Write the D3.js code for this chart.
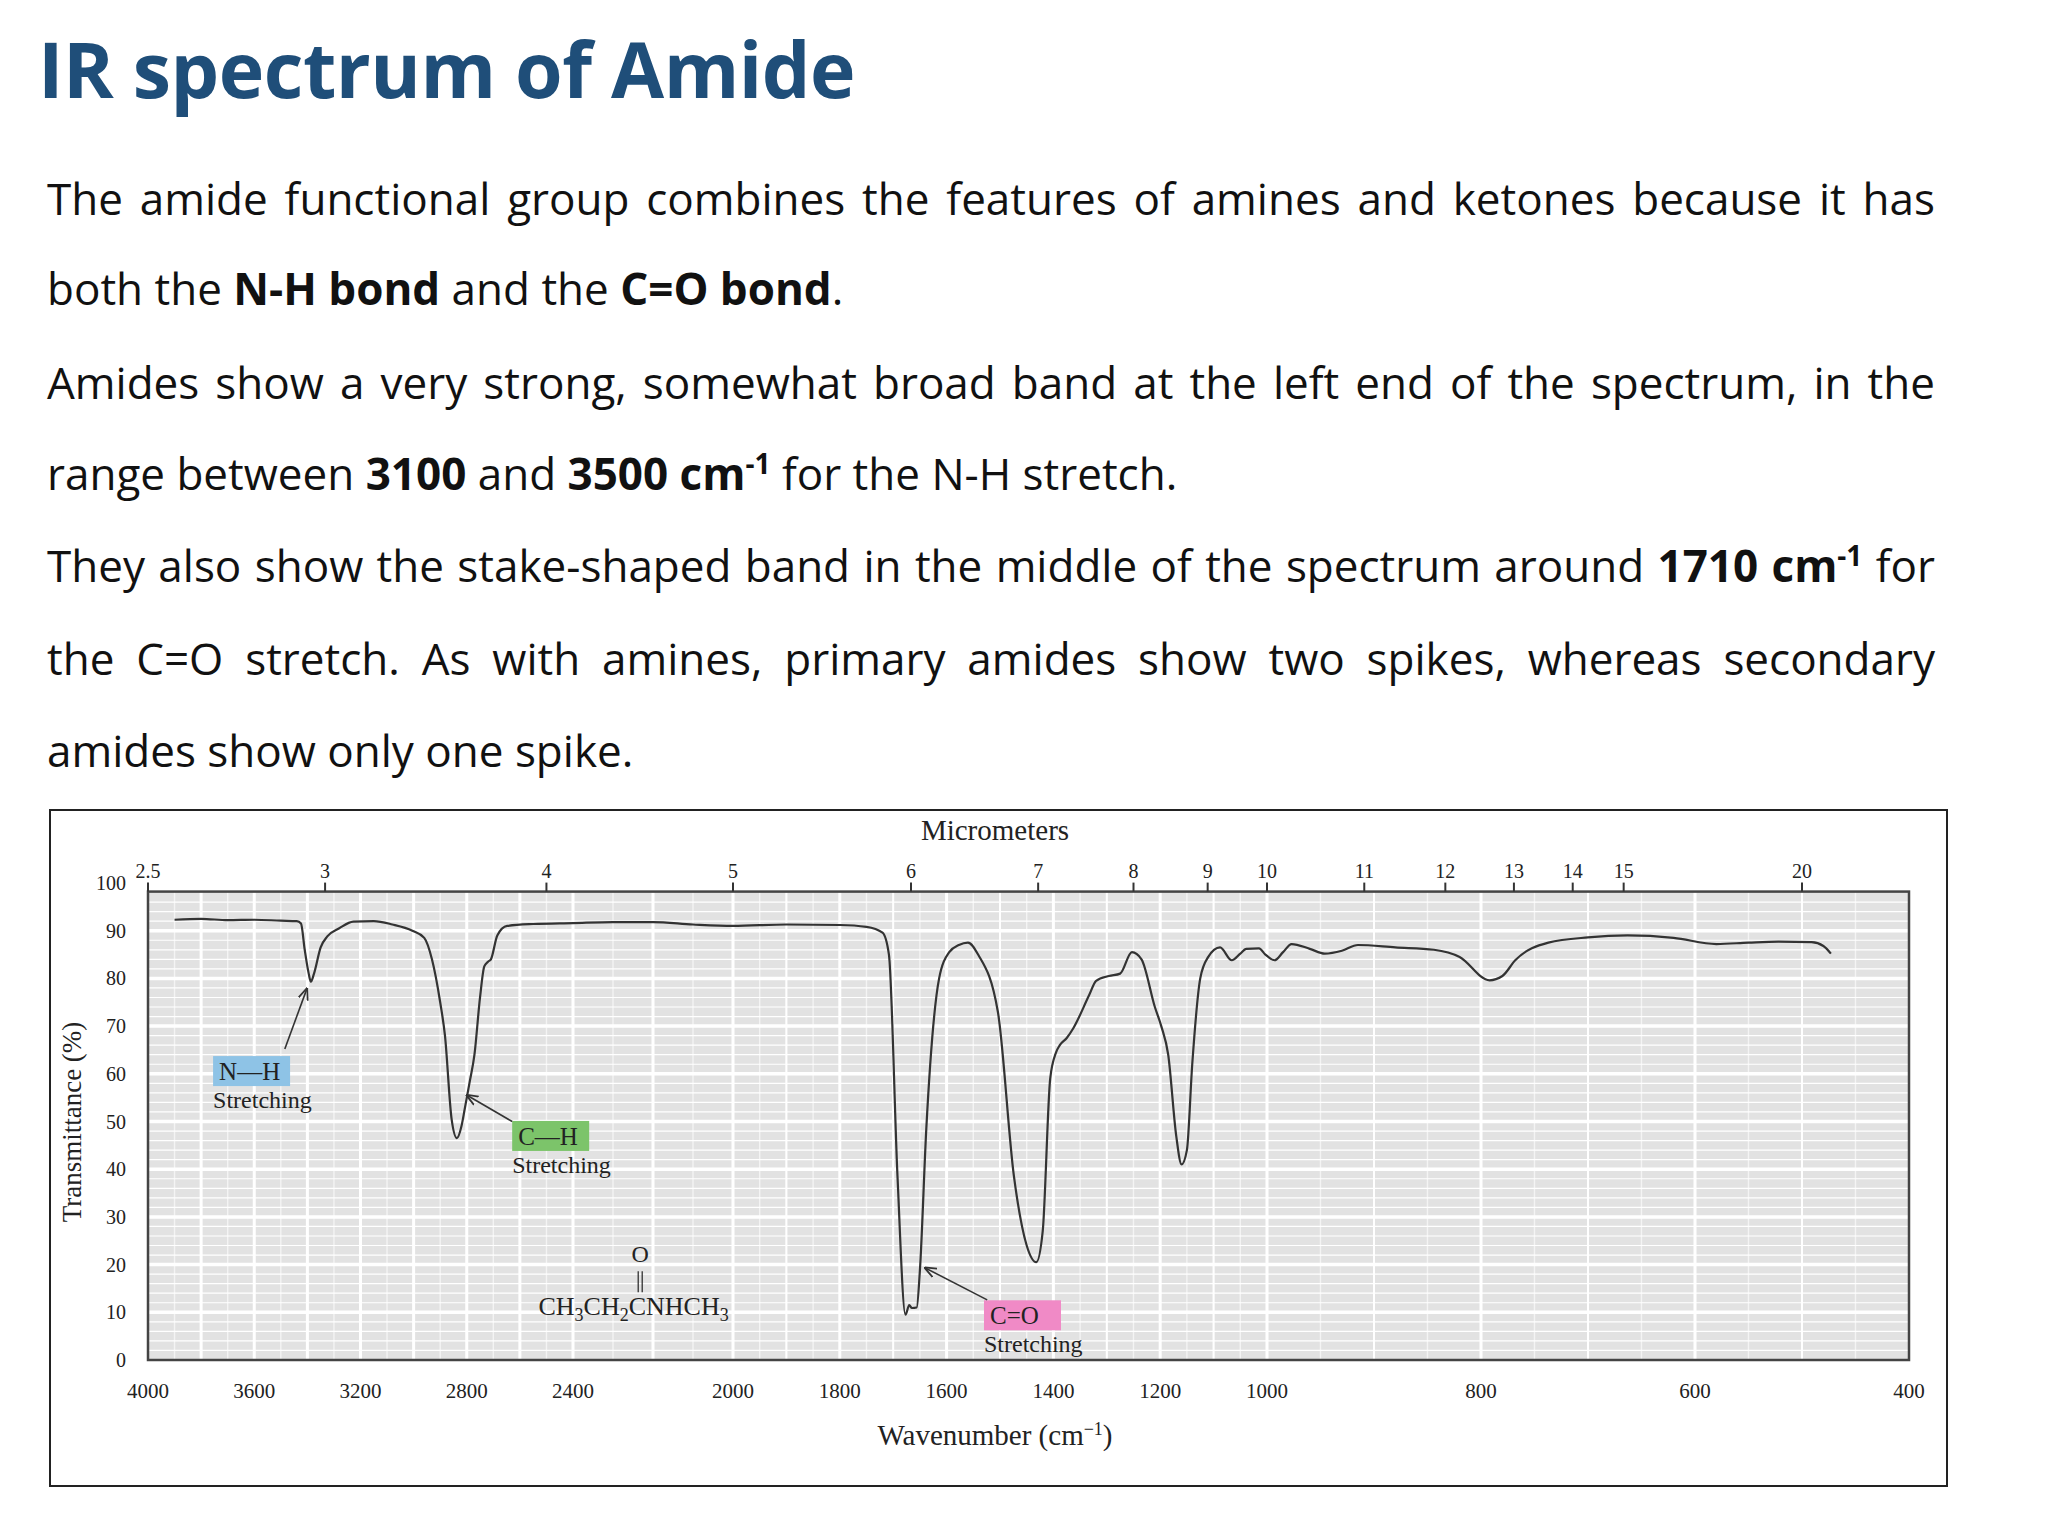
<!DOCTYPE html>
<html>
<head>
<meta charset="utf-8">
<script src="https://cdn.jsdelivr.net/npm/d3@7"></script>
<style>
  body { margin: 0; width: 2048px; height: 1536px; background: #fff; position: relative; overflow: hidden; font-family: "Open Sans", sans-serif; }
  #title { position: absolute; left: 38px; top: 16px; font-size: 77px; font-weight: bold; color: #1f4e79; letter-spacing: -0.5px; }
  .line { position: absolute; left: 47px; width: 1888px; font-size: 44px; color: #111; white-space: nowrap; }
  .full { text-align: justify; text-align-last: justify; white-space: normal; }
  svg { position: absolute; left: 0; top: 0; }
</style>
</head>
<body>
<div id="title">IR spectrum of Amide</div>
<div class="line full" style="top:168px">The amide functional group combines the features of amines and ketones because it has</div>
<div class="line" style="top:258px">both the <b>N-H bond</b> and the <b>C=O bond</b>.</div>
<div class="line full" style="top:352px">Amides show a very strong, somewhat broad band at the left end of the spectrum, in the</div>
<div class="line" style="top:443px">range between <b>3100</b> and <b>3500 cm<sup style="font-size:28px">-1</sup></b> for the N-H stretch.</div>
<div class="line full" style="top:535px">They also show the stake-shaped band in the middle of the spectrum around <b>1710 cm<sup style="font-size:28px">-1</sup></b> for</div>
<div class="line full" style="top:628px">the C=O stretch. As with amines, primary amides show two spikes, whereas secondary</div>
<div class="line" style="top:720px">amides show only one spike.</div>
<svg id="chart" width="2048" height="1536"></svg>
<script>
// wavenumbers (cm-1) and transmittance (%)
const wavenumber = [3900, 3800, 3700, 3600, 3500, 3440, 3424, 3410, 3395, 3387, 3375, 3350, 3325, 3280, 3227, 3150, 3080, 3005,
  2960, 2931, 2900, 2882, 2857, 2837, 2820, 2808, 2790, 2771, 2750, 2734, 2720, 2709, 2685, 2648, 2550, 2400, 2300, 2200, 2100,
  2000, 1900, 1800, 1750, 1720, 1708, 1692, 1677, 1670, 1665, 1656, 1650, 1638, 1614, 1595, 1577, 1560, 1541, 1504, 1474,
  1450, 1432, 1420, 1406, 1395, 1388, 1375, 1363, 1333, 1320, 1296, 1275, 1253, 1235, 1210, 1198, 1185, 1170, 1160, 1150,
  1140, 1125, 1110, 1088, 1066, 1050, 1039, 1015, 1003, 993, 985, 977, 960, 946, 930, 915, 880, 844, 820, 792, 780, 768,
  737, 700, 663, 620, 580, 550, 522, 491, 480, 473];
const transmittance = [92.3, 92.5, 92.2, 92.3, 92.1, 92.0, 91.5, 86, 81, 79.3, 81, 86.5, 88.8, 90.5, 91.9, 92, 91.3, 90,
  88.5, 84, 75, 68, 50.5, 46.5, 49, 52.5, 58, 64, 76, 82.5, 83.5, 84, 89, 91, 91.4, 91.6, 91.8, 91.8, 91.3,
  91.0, 91.3, 91.2, 90.8, 89.6, 85, 38.6, 9.5, 11.5, 10.9, 11.0, 18.8, 48.5, 80, 85.5, 87, 87.5, 85, 73, 38.6,
  24, 20.5, 27, 59, 64.5, 66, 67.5, 69.5, 76.5, 79.5, 80.5, 81, 85.5, 84, 74, 70, 64, 47, 41, 44,
  62, 80, 84.5, 86.5, 83.8, 85.2, 86.2, 86.3, 85, 83.8, 85.5, 87.2, 86.2, 85.2, 85.8, 87.0, 86.5, 86.0, 84.5, 79.6, 80.5, 83.8,
  87.5, 88.6, 89, 88.5, 87.2, 87.5, 87.7, 87.6, 86.8, 85.2];
const wnTicks = [4000, 3600, 3200, 2800, 2400, 2000, 1800, 1600, 1400, 1200, 1000, 800, 600, 400];
const umTicks = [2.5, 3, 4, 5, 6, 7, 8, 9, 10, 11, 12, 13, 14, 15, 20];
const tTicks = [0, 10, 20, 30, 40, 50, 60, 70, 80, 90, 100];

const svg = d3.select("#chart");
const serif = "'Liberation Serif', 'DejaVu Serif', serif";

// frame around the figure
svg.append("rect").attr("x", 50).attr("y", 810).attr("width", 1897).attr("height", 676)
  .attr("fill", "#fff").attr("stroke", "#222").attr("stroke-width", 2);

// piecewise wavenumber scale like the printed chart
const x = d3.scaleLinear().domain([4000, 2400, 2000, 1000, 400]).range([148, 573, 733, 1267, 1909]);
const y = d3.scaleLinear().domain([0, 100]).range([1360, 883]);
const plotTop = y(98.2), plotBot = y(0);

svg.append("rect").attr("x", x(4000)).attr("y", plotTop).attr("width", x(400) - x(4000)).attr("height", plotBot - plotTop)
  .attr("fill", "#e2e2e2");

// grid
const vMinor = d3.range(3900, 2000, -100).concat(d3.range(2000, 400, -50));
svg.append("g").selectAll("line").data(vMinor).join("line")
  .attr("x1", d => x(d)).attr("x2", d => x(d)).attr("y1", plotTop).attr("y2", plotBot)
  .attr("stroke", "#f4f4f4").attr("stroke-width", 1.4);
const vMajor = d3.range(3800, 2000, -200).concat(d3.range(2000, 400, -100));
svg.append("g").selectAll("line").data(vMajor).join("line")
  .attr("x1", d => x(d)).attr("x2", d => x(d)).attr("y1", plotTop).attr("y2", plotBot)
  .attr("stroke", "#fff").attr("stroke-width", d => (d % 200 === 0 ? 3 : 2));
svg.append("g").selectAll("line").data(d3.range(2, 98, 2)).join("line")
  .attr("x1", x(4000)).attr("x2", x(400)).attr("y1", d => y(d)).attr("y2", d => y(d))
  .attr("stroke", "#fff").attr("stroke-width", d => (d % 10 === 0 ? 3.5 : 1.2));

// plot border
svg.append("rect").attr("x", x(4000)).attr("y", plotTop).attr("width", x(400) - x(4000)).attr("height", plotBot - plotTop)
  .attr("fill", "none").attr("stroke", "#444").attr("stroke-width", 2.5);

// bottom wavenumber labels
svg.append("g").selectAll("text").data(wnTicks).join("text")
  .attr("x", d => x(d)).attr("y", 1398).attr("text-anchor", "middle")
  .attr("font-family", serif).attr("font-size", 21).attr("fill", "#222").text(d => d);
svg.append("text").attr("x", 995).attr("y", 1445).attr("text-anchor", "middle")
  .attr("font-family", serif).attr("font-size", 29).attr("fill", "#222")
  .html("Wavenumber (cm<tspan dy='-10' font-size='18'>−1</tspan><tspan dy='10'>)</tspan>");

// top micrometer ticks
const um = svg.append("g").selectAll("g").data(umTicks).join("g")
  .attr("transform", d => `translate(${x(10000 / d)},${plotTop})`);
um.append("line").attr("y1", 0).attr("y2", -9).attr("stroke", "#333").attr("stroke-width", 2);
um.append("text").attr("y", -14).attr("text-anchor", "middle").attr("font-family", serif)
  .attr("font-size", 20).attr("fill", "#222").text(d => d);
svg.append("text").attr("x", 995).attr("y", 840).attr("text-anchor", "middle")
  .attr("font-family", serif).attr("font-size", 29).attr("fill", "#222").text("Micrometers");

// y labels
svg.append("g").selectAll("text").data(tTicks).join("text")
  .attr("x", 126).attr("y", d => y(d) + 7).attr("text-anchor", "end")
  .attr("font-family", serif).attr("font-size", 20).attr("fill", "#222").text(d => d);
svg.append("text").attr("transform", "translate(81,1122) rotate(-90)").attr("text-anchor", "middle")
  .attr("font-family", serif).attr("font-size", 27).attr("fill", "#222").text("Transmittance (%)");

// spectrum
const pts = wavenumber.map((w, i) => [w, transmittance[i]]);
svg.append("path").datum(pts)
  .attr("d", d3.line().x(d => x(d[0])).y(d => y(d[1])).curve(d3.curveMonotoneX))
  .attr("fill", "none").attr("stroke", "#333").attr("stroke-width", 2.2);

// annotations
svg.append("defs").append("marker").attr("id", "ah").attr("viewBox", "0 0 10 10")
  .attr("refX", 9).attr("refY", 5).attr("markerWidth", 12).attr("markerHeight", 12).attr("orient", "auto")
  .attr("markerUnits", "userSpaceOnUse")
  .append("path").attr("d", "M0,1 L10,5 L0,9").attr("fill", "none").attr("stroke", "#333").attr("stroke-width", 1.5);

const notes = [
  { label: "N—H", wn: 3755, t: 61.2, color: "#8ec3e6", from: [3485, 65.2], to: [3402, 77.8] },
  { label: "C—H", wn: 2629, t: 47.6, color: "#7cc46a", from: [2629, 50], to: [2799, 55.5] },
  { label: "C=O", wn: 1530, t: 10, color: "#f08ac6", from: [1524, 12.6], to: [1640, 19.3] }
];
notes.forEach(n => {
  const g = svg.append("g");
  g.append("rect").attr("x", x(n.wn)).attr("y", y(n.t) - 12).attr("width", 77).attr("height", 30).attr("fill", n.color);
  g.append("text").attr("x", x(n.wn) + 6).attr("y", y(n.t) + 12).attr("font-family", serif)
    .attr("font-size", 25).attr("fill", "#222").text(n.label);
  g.append("text").attr("x", x(n.wn)).attr("y", y(n.t) + 40).attr("font-family", serif)
    .attr("font-size", 24).attr("fill", "#222").text("Stretching");
  g.append("line").attr("x1", x(n.from[0])).attr("y1", y(n.from[1])).attr("x2", x(n.to[0])).attr("y2", y(n.to[1]))
    .attr("stroke", "#333").attr("stroke-width", 1.6).attr("marker-end", "url(#ah)");
});

// structural formula
const fx = x(2530), fy = y(9.4);
svg.append("text").attr("x", fx).attr("y", fy).attr("font-family", serif).attr("font-size", 26).attr("fill", "#222")
  .html("CH<tspan dy='6' font-size='18'>3</tspan><tspan dy='-6'>CH</tspan><tspan dy='6' font-size='18'>2</tspan><tspan dy='-6'>CNHCH</tspan><tspan dy='6' font-size='18'>3</tspan>");
svg.append("text").attr("x", x(2232)).attr("y", y(20.5)).attr("text-anchor", "middle").attr("font-family", serif)
  .attr("font-size", 24).attr("fill", "#222").text("O");
[-2, 2].forEach(o => svg.append("line").attr("x1", x(2232) + o).attr("x2", x(2232) + o)
  .attr("y1", y(18.6)).attr("y2", y(14.2)).attr("stroke", "#222").attr("stroke-width", 1.2));
</script>
</body>
</html>
